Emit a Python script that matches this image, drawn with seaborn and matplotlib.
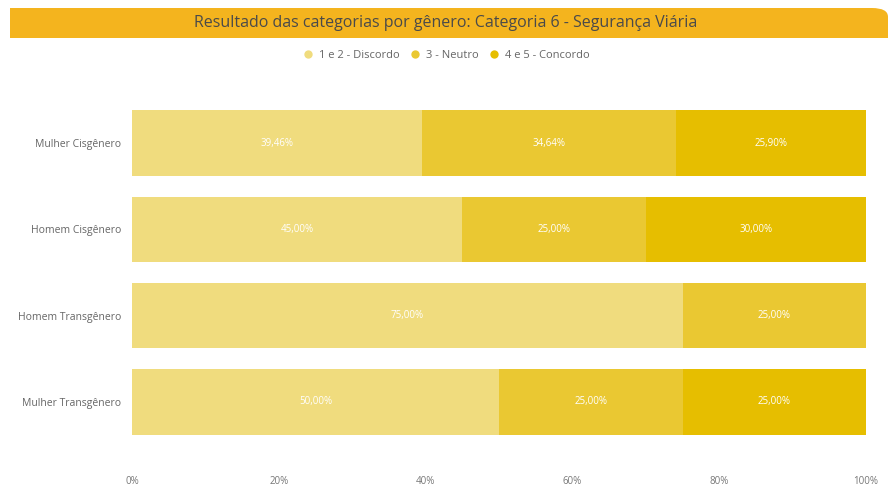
import matplotlib
matplotlib.use("Agg")
import matplotlib.pyplot as plt
import seaborn as sns
import pandas as pd
import numpy as np
from matplotlib.patches import FancyBboxPatch, Rectangle
from matplotlib.lines import Line2D

# data
generos = ['Mulher Cisgênero', 'Homem Cisgênero', 'Homem Transgênero', 'Mulher Transgênero']
discordo = [39.46, 45.00, 75.00, 50.00]
neutro = [34.64, 25.00, 25.00, 25.00]
concordo = [25.90, 30.00, 0.00, 25.00]
series_names = ['1 e 2 - Discordo', '3 - Neutro', '4 e 5 - Concordo']
cores = ['#F0DC7E', '#EAC832', '#E6BE00']
x_ticks = [0, 20, 40, 60, 80, 100]

sns.set_style("white")
plt.rcParams['font.family'] = ['Open Sans', 'DejaVu Sans']

df = pd.DataFrame({'genero': generos, 'discordo': discordo,
                   'neutro': neutro, 'concordo': concordo})
df['c1'] = df['discordo']
df['c2'] = df['discordo'] + df['neutro']
df['c3'] = df['c2'] + df['concordo']

fig = plt.figure(figsize=(8.92, 4.94), dpi=100)
ax = fig.add_axes([132 / 892, 1 - 445 / 494, (866 - 132) / 892, 345 / 494])

# stacked bars: draw cumulative totals from the back to the front
for col, cor in zip(['c3', 'c2', 'c1'], cores[::-1]):
    sns.barplot(data=df, x=col, y='genero', color=cor, orient='h',
                width=0.76, saturation=1, ax=ax, linewidth=0)

# segment labels
for i, row in df.iterrows():
    left = 0
    for val in [row['discordo'], row['neutro'], row['concordo']]:
        if val > 0:
            txt = f'{val:.2f}%'.replace('.', ',')
            ax.text(left + val / 2, i, txt, ha='center', va='center',
                    color='white', fontsize=7)
        left += val

ax.set_xlim(0, 100)
ax.set_ylim(3.5, -0.5)
ax.set_xticks(x_ticks)
ax.set_xticklabels([f'{t}%' for t in x_ticks])
ax.set_xlabel('')
ax.set_ylabel('')
ax.tick_params(axis='x', length=0, pad=22, labelsize=7, labelcolor='#777777')
ax.tick_params(axis='y', length=0, pad=8, labelsize=7.5, labelcolor='#666666')
for s in ax.spines.values():
    s.set_visible(False)

# title bar
bar = FancyBboxPatch((10 / 892, 1 - 38 / 494), 878 / 892, 30 / 494,
                     boxstyle='round,pad=0,rounding_size=0.018',
                     transform=fig.transFigure, facecolor='#F4B41E',
                     edgecolor='none', mutation_aspect=494 / 892 * 1.8)
fig.patches.append(bar)
fig.patches.append(Rectangle((10 / 892, 1 - 38 / 494), 860 / 892, 30 / 494,
                             transform=fig.transFigure, facecolor='#F4B41E',
                             edgecolor='none'))
fig.patches.append(Rectangle((10 / 892, 1 - 38 / 494), 878 / 892, 15 / 494,
                             transform=fig.transFigure, facecolor='#F4B41E',
                             edgecolor='none'))
fig.text(0.5, 1 - 23 / 494,
         'Resultado das categorias por gênero: Categoria 6 - Segurança Viária',
         ha='center', va='center', fontsize=11.5, color='#4A4A4A')

# legend
handles = [Line2D([0], [0], marker='o', linestyle='', markersize=6,
                  markerfacecolor=c, markeredgecolor='none') for c in cores]
fig.legend(handles, series_names, loc='center', bbox_to_anchor=(0.497, 1 - 55 / 494),
           ncol=3, frameon=False, fontsize=8, handletextpad=0.0,
           columnspacing=0.4, labelcolor='#666666', borderaxespad=0)

fig.savefig('out.png', dpi=100)
